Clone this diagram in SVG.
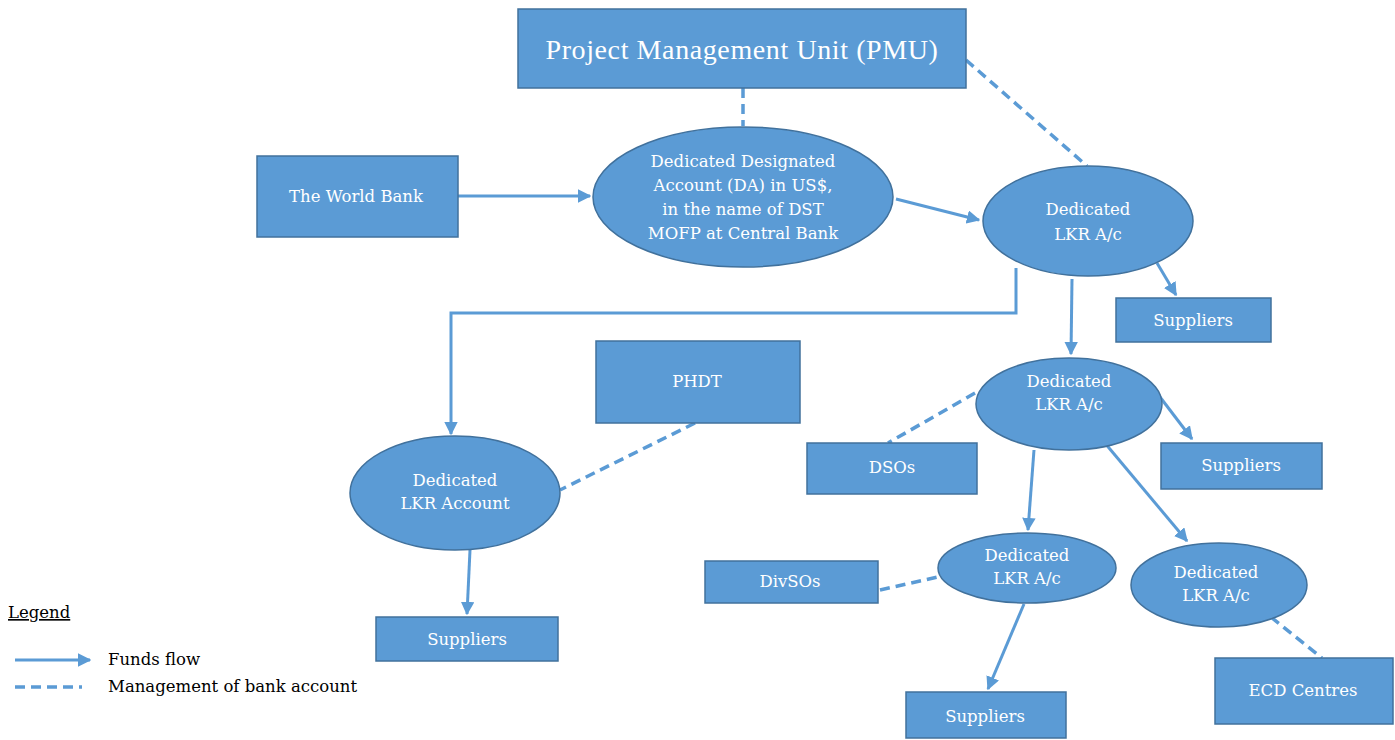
<svg xmlns="http://www.w3.org/2000/svg" width="1395" height="740" viewBox="0 0 1395 740">
<defs>
<marker id="ah" viewBox="0 0 10 10" refX="9" refY="5" markerWidth="4.5" markerHeight="4.5" orient="auto" markerUnits="strokeWidth">
<path d="M0,0 L10,5 L0,10 z" fill="#5B9BD5"/>
</marker>
<style>
.n{fill:#5B9BD5;stroke:#41719C;stroke-width:1.5}
.t{font-family:"DejaVu Serif","Liberation Serif",serif;font-size:16.5px;fill:#fff;text-anchor:middle}
.f{fill:none;stroke:#5B9BD5;stroke-width:3;marker-end:url(#ah)}
.d{fill:none;stroke:#5B9BD5;stroke-width:3.5;stroke-dasharray:10,6}
.lg{font-family:"DejaVu Serif","Liberation Serif",serif;font-size:16.5px;fill:#000}
</style>
</defs>
<rect width="1395" height="740" fill="#fff"/>
<g id="connectors">
<line class="d" x1="743" y1="88" x2="743" y2="126"/>
<line class="d" x1="966" y1="60" x2="1087" y2="166"/>
<line class="f" x1="458" y1="196" x2="590" y2="196"/>
<line class="f" x1="896" y1="199" x2="979" y2="220"/>
<polyline class="f" points="1016,268 1016,313 451,313 451,434"/>
<line class="f" x1="1072" y1="279" x2="1071" y2="354"/>
<line class="f" x1="1157" y1="263" x2="1176" y2="295"/>
<line class="d" x1="695" y1="423" x2="560" y2="490"/>
<line class="f" x1="470" y1="550" x2="467" y2="614"/>
<line class="d" x1="975" y1="393" x2="888" y2="443"/>
<line class="f" x1="1160" y1="397" x2="1192" y2="439"/>
<line class="f" x1="1034" y1="450" x2="1028" y2="530"/>
<line class="f" x1="1099" y1="436" x2="1187" y2="541"/>
<line class="d" x1="880" y1="590" x2="938" y2="577"/>
<line class="f" x1="1024" y1="604" x2="988" y2="689"/>
<line class="d" x1="1271" y1="617" x2="1322" y2="658"/>
</g>
<g id="pmu"><rect class="n" x="518" y="9" width="448" height="79"/><text x="742" y="59" style="font-family:'Liberation Serif','Times New Roman',serif;font-size:28px;fill:#fff;text-anchor:middle;letter-spacing:0.6px">Project Management Unit (PMU)</text></g>
<g id="worldbank"><rect class="n" x="257" y="156" width="201" height="81"/><text class="t" x="356" y="202">The World Bank</text></g>
<g id="da"><ellipse class="n" cx="743" cy="197" rx="150" ry="70"/>
<text class="t" x="743" y="167">Dedicated Designated</text>
<text class="t" x="743" y="191">Account (DA) in US$,</text>
<text class="t" x="743" y="215">in the name of DST</text>
<text class="t" x="743" y="239">MOFP at Central Bank</text></g>
<g id="lkr1"><ellipse class="n" cx="1088" cy="221" rx="105" ry="55"/><text class="t" x="1088" y="215">Dedicated</text><text class="t" x="1088" y="240">LKR A/c</text></g>
<g id="sup1"><rect class="n" x="1116" y="298" width="155" height="44"/><text class="t" x="1193" y="326">Suppliers</text></g>
<g id="lkrAccount"><ellipse class="n" cx="455" cy="493" rx="105" ry="57"/><text class="t" x="455" y="486">Dedicated</text><text class="t" x="455" y="509">LKR Account</text></g>
<g id="phdt"><rect class="n" x="596" y="341" width="204" height="82"/><text class="t" x="697" y="387">PHDT</text></g>
<g id="supLeft"><rect class="n" x="376" y="617" width="182" height="44"/><text class="t" x="467" y="645">Suppliers</text></g>
<g id="lkr2"><ellipse class="n" cx="1069" cy="404" rx="93" ry="46"/><text class="t" x="1069" y="387">Dedicated</text><text class="t" x="1069" y="410">LKR A/c</text></g>
<g id="dsos"><rect class="n" x="807" y="443" width="170" height="51"/><text class="t" x="892" y="473">DSOs</text></g>
<g id="sup2"><rect class="n" x="1161" y="443" width="161" height="46"/><text class="t" x="1241" y="471">Suppliers</text></g>
<g id="lkr3"><ellipse class="n" cx="1027" cy="568" rx="89" ry="35"/><text class="t" x="1027" y="561">Dedicated</text><text class="t" x="1027" y="584">LKR A/c</text></g>
<g id="lkr4"><ellipse class="n" cx="1219" cy="585" rx="88" ry="42"/><text class="t" x="1216" y="578">Dedicated</text><text class="t" x="1216" y="601">LKR A/c</text></g>
<g id="divsos"><rect class="n" x="705" y="561" width="173" height="42"/><text class="t" x="790" y="587">DivSOs</text></g>
<g id="ecd"><rect class="n" x="1215" y="658" width="178" height="66"/><text class="t" x="1303" y="696">ECD Centres</text></g>
<g id="sup3"><rect class="n" x="906" y="692" width="160" height="46"/><text class="t" x="985" y="722">Suppliers</text></g>
<g id="legend">
<text class="lg" x="8" y="618" text-decoration="underline">Legend</text>
<line class="f" x1="15" y1="660" x2="90" y2="660"/>
<text class="lg" x="108" y="665">Funds  flow</text>
<line class="d" x1="15" y1="687" x2="82" y2="687"/>
<text class="lg" x="108" y="692">Management of bank account</text>
</g>
</svg>
